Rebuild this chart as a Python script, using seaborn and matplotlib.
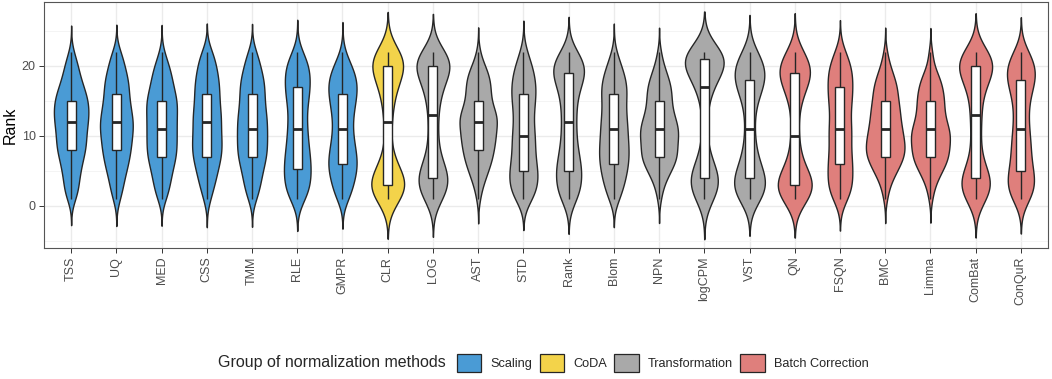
import matplotlib
matplotlib.use("Agg")
import matplotlib.pyplot as plt
import numpy as np
import pandas as pd
import seaborn as sns
from matplotlib.patches import Patch

# Ranks 1..22 and how often each method got each rank
ranks = list(range(1, 23))

scaling_methods = ["TSS", "UQ", "MED", "CSS", "TMM", "RLE", "GMPR"]
scaling_counts = [
    [2, 3, 3, 3, 4, 4, 5, 6, 6, 6, 6, 7, 7, 7, 7, 6, 5, 4, 3, 3, 2, 1],  # TSS
    [2, 2, 3, 3, 4, 5, 5, 6, 6, 6, 7, 7, 6, 6, 5, 5, 5, 5, 4, 3, 3, 2],  # UQ
    [2, 3, 3, 4, 4, 5, 6, 6, 6, 6, 6, 6, 6, 6, 7, 5, 5, 4, 4, 3, 2, 1],  # MED
    [2, 2, 3, 4, 4, 5, 6, 6, 6, 6, 5, 6, 6, 5, 5, 5, 5, 5, 4, 4, 3, 3],  # CSS
    [2, 3, 3, 4, 4, 5, 6, 6, 6, 6, 6, 6, 6, 5, 5, 5, 5, 5, 4, 3, 3, 2],  # TMM
    [4, 5, 5, 5, 6, 5, 5, 5, 4, 4, 4, 4, 3, 4, 4, 5, 5, 5, 5, 5, 4, 2],  # RLE
    [3, 4, 4, 5, 6, 6, 6, 5, 5, 4, 4, 4, 4, 5, 5, 6, 6, 6, 5, 4, 2, 1],  # GMPR
]

coda_methods = ["CLR"]
coda_counts = [
    [7, 8, 11, 8, 5, 3, 2, 2, 1, 1, 1, 2, 2, 2, 2, 3, 4, 5, 5, 10, 9, 7],  # CLR
]

transformation_methods = ["LOG", "AST", "STD", "Rank", "Blom", "NPN", "logCPM", "VST"]
transformation_counts = [
    [5, 6, 7, 8, 6, 4, 3, 2, 2, 2, 2, 2, 2, 2, 3, 3, 4, 5, 6, 11, 9, 6],  # LOG
    [1, 1, 2, 3, 4, 5, 6, 6, 7, 7, 7, 8, 8, 6, 5, 5, 5, 5, 4, 3, 1, 1],  # AST
    [5, 5, 6, 6, 6, 5, 5, 4, 5, 5, 4, 4, 4, 4, 5, 5, 5, 5, 4, 4, 2, 2],  # STD
    [5, 5, 5, 5, 6, 5, 4, 4, 3, 3, 3, 3, 3, 3, 3, 4, 4, 6, 8, 8, 6, 4],  # Rank
    [3, 3, 4, 5, 5, 6, 6, 6, 6, 5, 6, 5, 5, 5, 4, 6, 5, 5, 4, 3, 2, 1],  # Blom
    [1, 1, 2, 3, 5, 6, 8, 7, 7, 8, 8, 7, 6, 5, 5, 5, 5, 4, 3, 2, 1, 1],  # NPN
    [5, 6, 7, 8, 6, 3, 2, 2, 1, 1, 1, 1, 1, 1, 2, 2, 4, 5, 6, 9, 15, 12],  # logCPM
    [7, 7, 8, 7, 6, 4, 3, 3, 2, 2, 2, 2, 2, 2, 3, 4, 6, 7, 7, 7, 5, 4],  # VST
]

batch_methods = ["QN", "FSQN", "BMC", "Limma", "ComBat", "ConQuR"]
batch_counts = [
    [8, 9, 10, 8, 5, 3, 2, 2, 2, 2, 1, 1, 2, 2, 2, 3, 5, 7, 8, 8, 6, 4],  # QN
    [4, 5, 5, 5, 5, 5, 5, 4, 4, 5, 5, 4, 4, 4, 5, 5, 5, 5, 5, 5, 3, 3],  # FSQN
    [1, 1, 2, 3, 5, 6, 8, 8, 8, 7, 7, 6, 6, 6, 5, 5, 5, 4, 3, 2, 1, 1],  # BMC
    [1, 1, 2, 3, 5, 6, 8, 7, 8, 8, 8, 6, 6, 5, 6, 5, 5, 4, 3, 1, 1, 1],  # Limma
    [6, 7, 8, 7, 5, 3, 2, 2, 2, 2, 2, 2, 3, 2, 2, 3, 4, 5, 7, 10, 9, 7],  # ComBat
    [5, 6, 6, 6, 5, 4, 4, 4, 4, 4, 3, 3, 3, 3, 3, 4, 5, 6, 7, 6, 5, 4],  # ConQuR
]

group_names = ["Scaling", "CoDA", "Transformation", "Batch Correction"]
group_colors = ["#4a9bd5", "#f3d34a", "#a9a9a9", "#df7f7c"]

# long table: one row per (method, dataset rank)
rows = []
blocks = [
    ("Scaling", scaling_methods, scaling_counts),
    ("CoDA", coda_methods, coda_counts),
    ("Transformation", transformation_methods, transformation_counts),
    ("Batch Correction", batch_methods, batch_counts),
]
for grp, names, counts in blocks:
    for name, cnt in zip(names, counts):
        for r, c in zip(ranks, cnt):
            rows += [(name, grp, r)] * c
df = pd.DataFrame(rows, columns=["method", "group", "rank"])
methods = scaling_methods + coda_methods + transformation_methods + batch_methods

sns.set_theme(style="white")
plt.rcParams["font.family"] = ["Liberation Sans", "DejaVu Sans"]

fig = plt.figure(figsize=(10.52, 3.79), dpi=100)
ax = fig.add_axes([44 / 1052, 1 - 248.3 / 379, 1004 / 1052, 246.3 / 379])

edge = "#262626"
sns.violinplot(
    data=df, x="method", y="rank", hue="group", order=methods,
    hue_order=group_names, palette=dict(zip(group_names, group_colors)),
    dodge=False, density_norm="area", common_norm=True, bw_method=0.27,
    cut=2.67, width=0.86, inner=None, linewidth=1.0, linecolor=edge,
    saturation=1, legend=False, ax=ax,
)
sns.boxplot(
    data=df, x="method", y="rank", order=methods, width=0.2, color="white",
    linecolor=edge, linewidth=1.0, saturation=1, showfliers=False,
    showcaps=False, medianprops={"linewidth": 2.0}, ax=ax,
)

ax.set_xlim(-0.6, 21.6)
ax.set_ylim(-6.04, 29.1)
ax.set_yticks([0, 10, 20])
ax.set_yticks([-5, 5, 15, 25], minor=True)
ax.grid(which="major", color="#EBEBEB", linewidth=1.0)
ax.grid(which="minor", axis="y", color="#F3F3F3", linewidth=0.6)
ax.set_axisbelow(True)
ax.tick_params(axis="both", which="major", length=3.5, width=0.7, color="#333333",
               labelcolor="#4D4D4D", labelsize=9, pad=2.5, bottom=True, left=True)
ax.tick_params(axis="y", which="minor", length=0)
plt.setp(ax.get_xticklabels(), rotation=90)
ax.set_xlabel("")
ax.set_ylabel("Rank", fontsize=11.5, color="black")
ax.yaxis.set_label_coords((18 - 44) / 1004, 0.5)
for sp in ax.spines.values():
    sp.set_color("#555555")
    sp.set_linewidth(0.8)

handles = [Patch(facecolor=c, edgecolor=edge, linewidth=0.9) for c in group_colors]
fig.legend(handles, group_names, loc="center left",
           bbox_to_anchor=(457 / 1052, 1 - 363 / 379), ncol=4, frameon=False,
           fontsize=9.2, handlelength=1.9, handleheight=1.9, handletextpad=0.7,
           columnspacing=0.6, borderpad=0, borderaxespad=0)
fig.text(446 / 1052, 1 - 363 / 379, "Group of normalization methods",
         ha="right", va="center", fontsize=11.5)

fig.savefig("out.png", dpi=100)
